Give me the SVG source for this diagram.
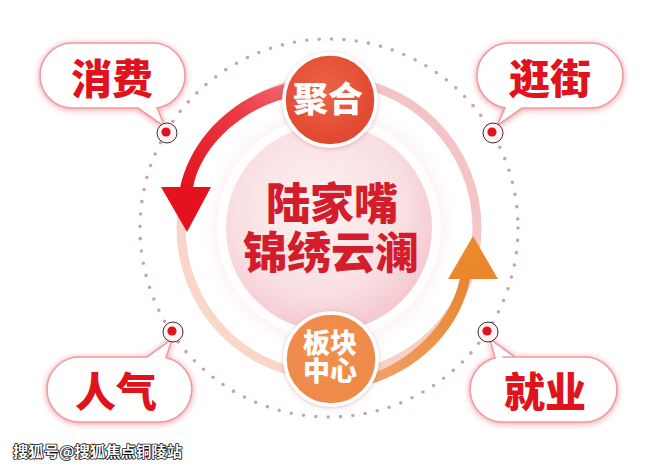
<svg xmlns="http://www.w3.org/2000/svg" width="660" height="470" viewBox="0 0 660 470">
<defs>
<style>
.bubble{fill:#ffffff;stroke:#f09aa2;stroke-width:1.6}
.btxt{font-family:"Noto Sans CJK SC","Noto Sans CJK JP",sans-serif;font-weight:900;font-size:41px;fill:#e0131d;text-anchor:middle}
.ctxt{font-family:"Noto Sans CJK SC","Noto Sans CJK JP",sans-serif;font-weight:900;font-size:44px;fill:#d41d2c;text-anchor:middle}
.wtxt{font-family:"Noto Sans CJK SC","Noto Sans CJK JP",sans-serif;font-weight:900;fill:#ffffff;text-anchor:middle}
.ring{fill:#fff4f5;stroke:#4a2a30;stroke-width:1}
.rdot{fill:#e3111c}
.wm{font-family:"Noto Sans CJK SC","Noto Sans CJK JP",sans-serif;font-weight:700;font-size:14.5px;fill:#ffffff;stroke:#111111;stroke-width:1.6;paint-order:stroke;stroke-linejoin:round}
</style>
<filter id="glow" x="-20%" y="-30%" width="140%" height="160%">
<feDropShadow dx="0" dy="1" stdDeviation="3" flood-color="#ee6f7a" flood-opacity="0.7"/>
</filter>
<filter id="soft" x="-20%" y="-20%" width="140%" height="140%">
<feDropShadow dx="0" dy="1" stdDeviation="2" flood-color="#c0404a" flood-opacity="0.35"/>
</filter>
<radialGradient id="coreG" cx="0.45" cy="0.4" r="0.6">
<stop offset="0" stop-color="#fdf2f2"/>
<stop offset="0.7" stop-color="#f9dfe2"/>
<stop offset="1" stop-color="#f4c9cf"/>
</radialGradient>
<radialGradient id="haloG" cx="0.5" cy="0.5" r="0.5">
<stop offset="0.75" stop-color="#f7d7dc" stop-opacity="0.7"/>
<stop offset="1" stop-color="#fbe9ec" stop-opacity="0"/>
</radialGradient>
<linearGradient id="ringG" x1="1" y1="0" x2="0" y2="1">
<stop offset="0" stop-color="#f3bfc5"/>
<stop offset="1" stop-color="#f9dcc9"/>
</linearGradient>
<linearGradient id="redG" x1="1" y1="0" x2="0" y2="1">
<stop offset="0" stop-color="#f0707a"/>
<stop offset="0.4" stop-color="#ec3a44"/>
<stop offset="1" stop-color="#e3121c"/>
</linearGradient>
<linearGradient id="orgG" x1="0" y1="1" x2="1" y2="0">
<stop offset="0" stop-color="#f2a46e"/>
<stop offset="1" stop-color="#e8852e"/>
</linearGradient>
<linearGradient id="ahG" x1="0" y1="0" x2="0" y2="1">
<stop offset="0" stop-color="#ec8a2a"/>
<stop offset="1" stop-color="#e9862f"/>
</linearGradient>
<radialGradient id="jhG" cx="0.45" cy="0.4" r="0.6">
<stop offset="0" stop-color="#ec6446"/>
<stop offset="1" stop-color="#e0472f"/>
</radialGradient>
<radialGradient id="bkG" cx="0.45" cy="0.4" r="0.6">
<stop offset="0" stop-color="#f18f50"/>
<stop offset="1" stop-color="#ef8a48"/>
</radialGradient>
</defs>

<rect width="660" height="470" fill="#ffffff"/>

<g id="backdrop">
<circle cx="329" cy="228" r="189" fill="none" stroke="#c9a3ad" stroke-width="3.6" stroke-linecap="round" stroke-dasharray="0 12.4"/>
<circle cx="329" cy="228" r="148" fill="none" stroke="url(#ringG)" stroke-width="9"/>
<circle cx="329" cy="228" r="128" fill="url(#haloG)"/>
<circle cx="329" cy="228" r="112" fill="#ffffff" opacity="0.85"/>
</g>

<g id="connectors">
<path d="M297,80.4 L278,86 C230,100 190,140 180,188 L193,188 C200,148 238,112 283,99 L298,94 Z" fill="url(#redG)"/>
<polygon points="161,187 211,187 187,232" fill="#e3121c"/>
<path d="M358,388 L377,382 C425,365 462,325 470,278 L460,278 C452,318 418,355 377,372 L358,375 Z" fill="url(#orgG)"/>
<polygon points="448,279 498,279 473,236" fill="url(#ahG)"/>
</g>

<g id="core">
<circle cx="329" cy="228" r="103" fill="url(#coreG)"/>
<text class="ctxt"><tspan x="332" y="220">陆家嘴</tspan><tspan x="331" y="269">锦绣云澜</tspan></text>
</g>

<g id="juhe">
<circle cx="330" cy="100" r="46" fill="url(#jhG)" stroke="#ffffff" stroke-width="3.5" filter="url(#soft)"/>
<text class="wtxt" x="328" y="112" font-size="35">聚合</text>
</g>

<g id="bankuai">
<circle cx="331" cy="359" r="46" fill="url(#bkG)" stroke="#ffffff" stroke-width="3.5" filter="url(#soft)"/>
<text class="wtxt" font-size="27"><tspan x="330" y="353">板块</tspan><tspan x="330" y="381">中心</tspan></text>
</g>

<g id="xiaofei">
<path class="bubble" filter="url(#glow)" d="M72.5,43 H152.5 A32.5,32.5 0 0 1 157,107.7 L165,127 L138,108 H72.5 A32.5,32.5 0 0 1 72.5,43 Z"/>
<circle class="ring" cx="167" cy="133" r="10"/>
<circle class="rdot" cx="166" cy="132" r="4.6"/>
<text class="btxt" x="112" y="94">消费</text>
</g>

<g id="guangjie">
<path class="bubble" filter="url(#glow)" d="M509.5,43 H590.5 A32.5,32.5 0 0 1 590.5,108 H522 L497,126 L505,107.7 A32.5,32.5 0 0 1 509.5,43 Z"/>
<circle class="ring" cx="493" cy="133" r="10"/>
<circle class="rdot" cx="492" cy="132" r="4.6"/>
<text class="btxt" x="550" y="94">逛街</text>
</g>

<g id="renqi">
<path class="bubble" filter="url(#glow)" d="M79.5,357 H147 L172,339 L166,357.7 A32.5,32.5 0 0 1 159.5,422 H79.5 A32.5,32.5 0 0 1 79.5,357 Z"/>
<circle class="ring" cx="173" cy="332" r="10"/>
<circle class="rdot" cx="172" cy="331" r="4.6"/>
<text class="btxt" x="116" y="407">人气</text>
</g>

<g id="jiuye">
<path class="bubble" filter="url(#glow)" d="M502.5,357 H584.5 A32.5,32.5 0 0 1 584.5,422 H502.5 A32.5,32.5 0 0 1 495,357.9 L490,339 L515,357 Z"/>
<circle class="ring" cx="488" cy="332" r="10"/>
<circle class="rdot" cx="487" cy="331" r="4.6"/>
<text class="btxt" x="545" y="407">就业</text>
</g>

<text class="wm" x="13" y="457" textLength="169" lengthAdjust="spacingAndGlyphs">搜狐号@搜狐焦点铜陵站</text>
</svg>
